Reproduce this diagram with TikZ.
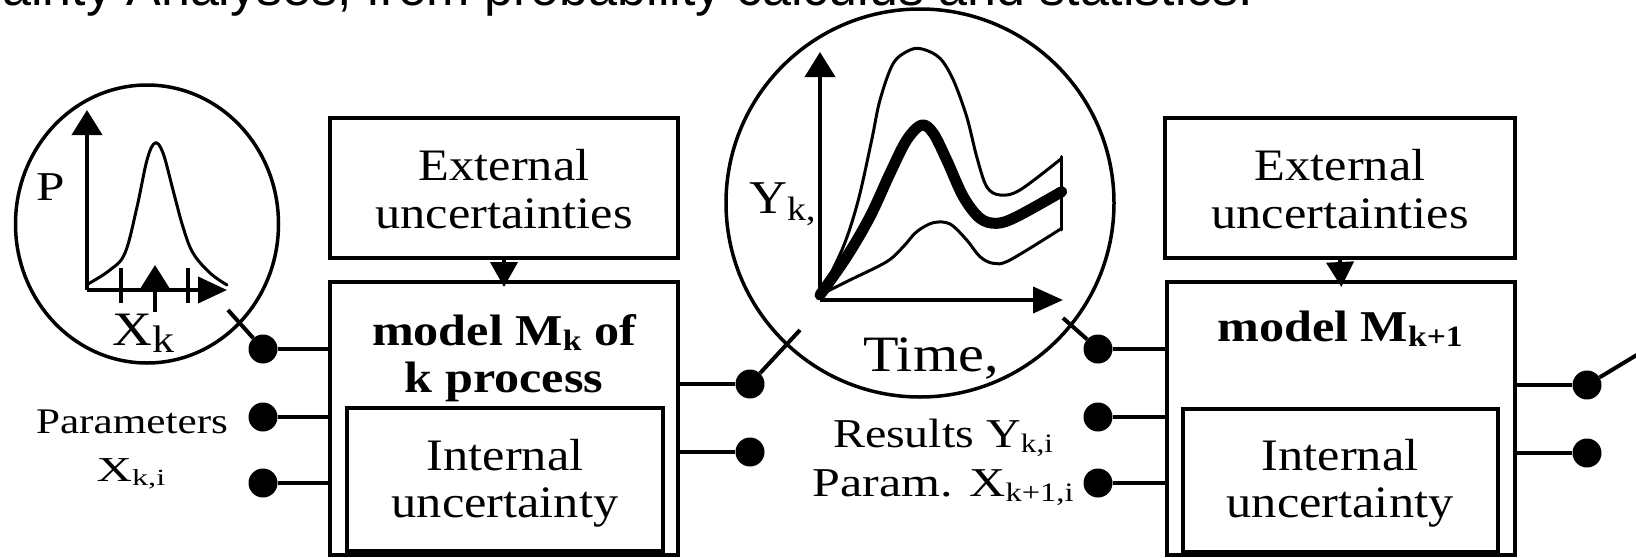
\documentclass[tikz,border=0pt]{standalone}
\usepackage{fontspec}
\setmainfont{Liberation Serif}
\newfontfamily\headfont{Liberation Sans}
\usepackage{graphicx}
\usetikzlibrary{arrows.meta,shapes.geometric}
\newcommand{\hs}[2]{\scalebox{#1}[1]{#2}}
\newcommand{\sbx}[3]{\raisebox{-#2}{\scalebox{#1}{#3}}}
\begin{document}
\begin{tikzpicture}[x=1pt,y=-1pt,
  box/.style={draw,line width=4pt,inner sep=0pt},
  ring/.style={draw,line width=3.5pt,inner sep=0pt},
  dotn/.style={circle,fill,inner sep=0pt,minimum size=29pt},
  wire/.style={line width=4pt},
  txt/.style={anchor=base,inner sep=0pt},
  txtw/.style={anchor=base west,inner sep=0pt},
  axisv/.style={line width=4pt,-{Triangle[length=25pt,width=30pt]}},
  axish/.style={line width=4pt,-{Triangle[length=29pt,width=26pt]}},
  feed/.style={line width=4pt,-{Triangle[length=25pt,width=27pt]},shorten >=-7pt},
  thincurve/.style={line width=3pt,line join=round,line cap=round},
  bandcurve/.style={line width=11pt,line join=round,line cap=round},
  f45/.style={font=\fontsize{45}{48}\selectfont},
  fbold/.style={font=\fontsize{44}{47}\selectfont\bfseries}
]
\useasboundingbox (0,0) rectangle (1636,557);
\begin{scope}
\clip (0,0) rectangle (1636,557);
\node[txtw,font=\headfont\fontsize{52}{52}\selectfont] (head) at (2,5) {ainty Analyses, from probability calculus and statistics.};
\end{scope}

% ---------- left circle: distribution of parameters ----------
\node[ring,ellipse,minimum width=263pt,minimum height=278pt] (lc) at (147,224) {};
\coordinate (lo) at (87,290);
\coordinate (ltop) at (87,110);
\coordinate (lright) at (227,290);
\draw[axisv] (lo) -- (ltop);
\draw[axish] (lo) -- (lright);
\draw[thincurve] plot[smooth,tension=0.6] coordinates {(88,284) (110,270) (125,253) (137,207) (147,160) (155,143) (163,153) (173,190) (183,227) (193,253) (210,273) (227,285)};
\coordinate (t1a) at (121,268); \coordinate (t1b) at (121,303);
\coordinate (t2a) at (188,268); \coordinate (t2b) at (188,303);
\draw[wire] (t1a) -- (t1b);
\draw[wire] (t2a) -- (t2b);
\coordinate (ma) at (155,312); \coordinate (mb) at (155,265);
\draw[line width=4pt,-{Triangle[length=24pt,width=29pt]}] (ma) -- (mb);
\node[txtw,font=\fontsize{41}{41}\selectfont] (plab) at (36,200) {\hs{1.25}{P}};
\node[txtw,font=\fontsize{48}{48}\selectfont] (xk) at (112,345) {\hs{1.15}{X\sbx{0.8}{7pt}{k}}};

% ---------- model k ----------
\node[box,minimum width=348pt,minimum height=140pt] (ext1) at (504,188) {};
\node[txt,f45] (ext1a) at (504,180) {\hs{1.12}{External}};
\node[txt,f45] (ext1b) at (504,228) {\hs{1.12}{uncertainties}};
\node[box,minimum width=348pt,minimum height=273pt] (mod1) at (504,418.5) {};
\node[txt,fbold] (mod1a) at (504,345) {\hs{1.14}{model M\sbx{0.67}{5pt}{k} of}};
\node[txt,fbold] (mod1b) at (504,392) {\hs{1.14}{k process}};
\node[box,minimum width=316pt,minimum height=143pt] (int1) at (505,479.5) {};
\node[txt,f45] (int1a) at (505,470) {\hs{1.12}{Internal}};
\node[txt,f45] (int1b) at (505,517) {\hs{1.12}{uncertainty}};
\draw[feed] (ext1.south) -- (mod1.north);

% inputs of model k
\node[dotn] (d1) at (263,349) {};
\node[dotn] (d2) at (263,417) {};
\node[dotn] (d3) at (263,483) {};
\coordinate (lcx) at (228,310);
\draw[wire] (lcx) -- (d1);
\draw[wire] (d1) -- (d1 -| mod1.west);
\draw[wire] (d2) -- (d2 -| mod1.west);
\draw[wire] (d3) -- (d3 -| mod1.west);
\node[txt,font=\fontsize{36}{36}\selectfont] (parl) at (132,433) {\hs{1.2}{Parameters}};
\node[txt,font=\fontsize{35}{35}\selectfont] (parx) at (131,481) {\hs{1.4}{X\sbx{0.66}{4pt}{k,i}}};

% outputs of model k
\node[dotn] (o1) at (750,384) {};
\node[dotn] (o2) at (750,452) {};
\draw[wire] (o1 -| mod1.east) -- (o1);
\draw[wire] (o2 -| mod1.east) -- (o2);
\coordinate (ccx1) at (800,330);
\draw[wire] (o1) -- (ccx1);

% ---------- central circle: results ----------
\node[ring,circle,minimum size=388pt] (cc) at (920,203) {};
\coordinate (co) at (820,300);
\coordinate (ctop) at (820,52);
\coordinate (cright) at (1063,300);
\draw[axisv] (co) -- (ctop);
\draw[line width=4pt,-{Triangle[length=30pt,width=26pt]}] (co) -- (cright);
\draw[thincurve] plot[smooth,tension=0.55] coordinates {(820,295) (843.3,246.7) (858.3,200) (871.7,140) (880,100) (893.3,63.3) (910,50) (923.3,49.3) (940,58.3) (953.3,80) (966.7,116.7) (976.7,156.7) (986.7,186.7) (1000,195) (1020,190) (1061.7,158.3)};
\draw[bandcurve] plot[smooth,tension=0.55] coordinates {(820,295) (846.7,256.7) (870,216.7) (890,173.3) (906.7,140) (921.7,125) (933.3,133.3) (946.7,160) (963.3,196.7) (980,218.3) (996.7,223.3) (1016.7,216.7) (1061.7,191.7)};
\draw[thincurve] plot[smooth,tension=0.55] coordinates {(820,295) (850,280) (886.7,261.7) (903.3,246.7) (916.7,231.7) (933.3,222.7) (950,224) (966.7,240) (980,256.7) (993.3,263.3) (1010,260) (1061.7,228.3)};
\coordinate (bt) at (1061.7,156.7); \coordinate (bb) at (1061.7,230);
\draw[thincurve] (bt) -- (bb);
\node[txtw,font=\fontsize{47}{47}\selectfont] (yk) at (749,213) {\hs{1.12}{Y\sbx{0.72}{7pt}{k,}}};
\node[txt,font=\fontsize{51}{51}\selectfont] (time) at (931,371) {\hs{1.14}{Time,}};
\node[txt,font=\fontsize{41}{41}\selectfont] (res) at (943,447) {\hs{1.17}{Results Y\sbx{0.65}{5pt}{k,i}}};
\node[txt,font=\fontsize{41}{41}\selectfont] (parn) at (943,496) {\hs{1.22}{Param. X\sbx{0.65}{5pt}{k+1,i}}};

% ---------- model k+1 ----------
\node[box,minimum width=350pt,minimum height=140pt] (ext2) at (1340,188) {};
\node[txt,f45] (ext2a) at (1340,180) {\hs{1.12}{External}};
\node[txt,f45] (ext2b) at (1340,228) {\hs{1.12}{uncertainties}};
\node[box,minimum width=348pt,minimum height=273pt] (mod2) at (1341,418.5) {};
\node[txt,fbold] (mod2a) at (1340,341) {\hs{1.14}{model M\sbx{0.67}{5pt}{k+1}}};
\node[box,minimum width=315pt,minimum height=143pt] (int2) at (1340.5,480) {};
\node[txt,f45] (int2a) at (1340,470) {\hs{1.12}{Internal}};
\node[txt,f45] (int2b) at (1340,517) {\hs{1.12}{uncertainty}};
\draw[feed] (ext2.south) -- (mod2.north);

\node[dotn] (r1) at (1098,349) {};
\node[dotn] (r2) at (1098,417) {};
\node[dotn] (r3) at (1098,483) {};
\coordinate (ccx2) at (1063,318);
\draw[wire] (ccx2) -- (r1);
\draw[wire] (r1) -- (r1 -| mod2.west);
\draw[wire] (r2) -- (r2 -| mod2.west);
\draw[wire] (r3) -- (r3 -| mod2.west);

\node[dotn] (p1) at (1587,385) {};
\node[dotn] (p2) at (1587,453) {};
\draw[wire] (p1 -| mod2.east) -- (p1);
\draw[wire] (p2 -| mod2.east) -- (p2);
\coordinate (pend) at (1640,353);
\draw[wire] (p1) -- (pend);
\end{tikzpicture}
\end{document}
